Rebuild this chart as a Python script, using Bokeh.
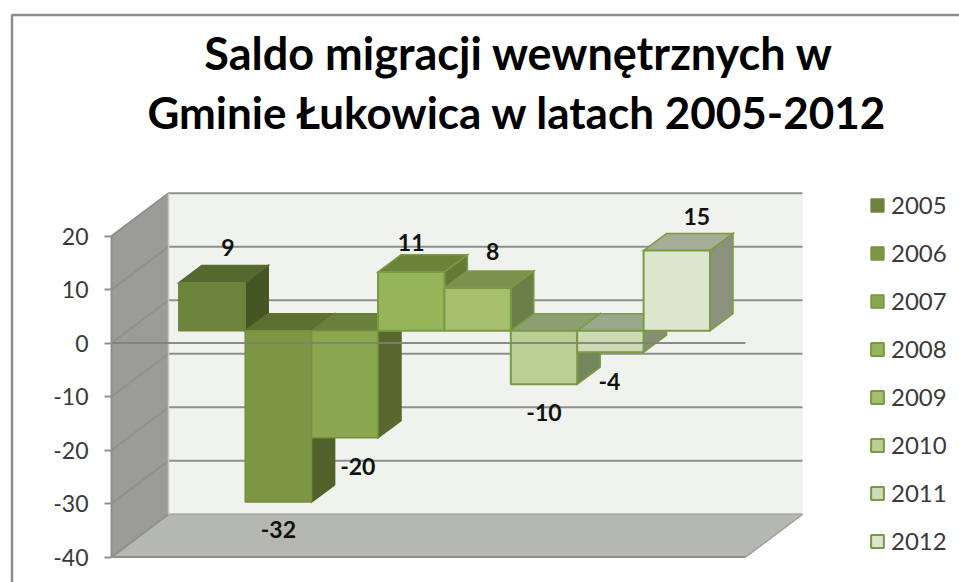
from bokeh.embed import file_html
from bokeh.resources import INLINE
from bokeh.plotting import figure
from bokeh.models import ColumnDataSource, FixedTicker, Legend, LegendItem, Range1d
from bokeh.core.properties import value

# ---- data
title_lines = ["Saldo migracji wewnętrznych w", "Gminie Łukowica w latach 2005-2012"]
years = ["2005", "2006", "2007", "2008", "2009", "2010", "2011", "2012"]
saldo = [9, -32, -20, 11, 8, -10, -4, 15]
value_ticks = [-40, -30, -20, -10, 0, 10, 20]

# ---- styles
front_colors = ["#6D833C", "#7D9644", "#8AA64F", "#96B558", "#A6C070", "#BBCE94", "#CDDBB4", "#DCE5CD"]
top_colors = ["#556A2F", "#5D7030", "#6B7F3C", "#6B8239", "#7A9150", "#8D9F70", "#9AA88A", "#A6AD95"]
side_colors = ["#465524", "#506229", "#59692E", "#637A36", "#6A7F47", "#73875A", "#868F73", "#8A917C"]
edge_colors = ["#6D833C", "#75903F", "#75933F", "#7A9A45", "#7A9A45", "#7A9A45", "#7A9A45", "#7A9A45"]
label_dx = [16, 0, 13, 0, 15, 0, -1, 20]
label_dy = [-35, 28, 29, -29, -36, 28, 29, -34]
title_sizes = ["45px", "44px"]

FONT = "Lato"
GRID = "#8F8F8F"
TEXT = "#3A3A3A"

# ---- the projection of the 3-D box (category units across, value units up)
PX_X, PX_Y = 66.4, 5.35
X0, Y0 = 178.3, 342.6          # page position of category 0 / value 0
WALL_FRONT_X = (111 - X0) / PX_X
WALL_DX = 57 / PX_X
WALL_DY = 8.0
WALL_WIDTH = 634 / PX_X
BAR_LIFT = 2.3                 # bars stand part-way into the box
BAR_DX, BAR_DY = 23 / PX_X, 3.2
BOTTOM, TOP = value_ticks[0], value_ticks[-1]

W, H = 959, 582
def page_x(px): return (px - X0) / PX_X
def page_y(py): return (Y0 - py) / PX_Y

p = figure(width=W, height=H, output_backend="svg", toolbar_location=None,
           x_range=Range1d(page_x(0), page_x(W)),
           y_range=Range1d(page_y(H), page_y(0)),
           x_axis_location=None, y_axis_location="left",
           min_border=0, min_border_left=0, min_border_right=0,
           min_border_top=0, min_border_bottom=0,
           background_fill_color="white", border_fill_color="white")
p.outline_line_color = None
p.xgrid.visible = False
p.ygrid.visible = False

# outer chart frame
p.line([page_x(959), page_x(11.5), page_x(11.5)], [page_y(14.5), page_y(14.5), page_y(582)],
       line_color="#8C8C8C", line_width=2.5)

fx, bx = WALL_FRONT_X, WALL_FRONT_X + WALL_DX
# walls and floor
p.patch([bx, bx + WALL_WIDTH, bx + WALL_WIDTH, bx], [BOTTOM + WALL_DY, BOTTOM + WALL_DY, TOP + WALL_DY, TOP + WALL_DY],
        fill_color="#F0F2ED", line_color=None)
p.patch([fx, bx, bx, fx], [BOTTOM, BOTTOM + WALL_DY, TOP + WALL_DY, TOP],
        fill_color="#9A9C95", line_color=None)
p.patch([fx, bx, bx + WALL_WIDTH, fx + WALL_WIDTH], [BOTTOM, BOTTOM + WALL_DY, BOTTOM + WALL_DY, BOTTOM],
        fill_color="#B5B8B0", line_color=None)

# gridlines on back wall and side wall
for t in value_ticks:
    if t > BOTTOM:
        p.line([fx, bx, bx + WALL_WIDTH], [t, t + WALL_DY, t + WALL_DY], line_color=GRID, line_width=2)
    else:
        p.line([fx, bx], [t, t + WALL_DY], line_color=GRID, line_width=2)
        p.line([bx, bx + WALL_WIDTH], [t + WALL_DY, t + WALL_DY], line_color="#A8ABA3", line_width=2)
p.line([fx + WALL_WIDTH, fx, ], [BOTTOM, BOTTOM], line_color=GRID, line_width=2)
p.line([fx + WALL_WIDTH, bx + WALL_WIDTH], [BOTTOM, BOTTOM + WALL_DY], line_color="#A0A39B", line_width=1.5)
p.line([bx, bx], [BOTTOM + WALL_DY, TOP + WALL_DY], line_color="#C8CAC4", line_width=1.5)

# bars, left to right
legend_items = []
for i, (yr, v) in enumerate(zip(years, saldo)):
    hi, lo = max(v, 0) + BAR_LIFT, min(v, 0) + BAR_LIFT
    l, r = i, i + 1
    p.patch([r, r, r + BAR_DX, r + BAR_DX], [lo, hi, hi + BAR_DY, lo + BAR_DY],
            fill_color=side_colors[i], line_color=edge_colors[i] if i > 2 else side_colors[i],
            line_width=1.5, line_join="miter")
    p.patch([l, r, r + BAR_DX, l + BAR_DX], [hi, hi, hi + BAR_DY, hi + BAR_DY],
            fill_color=top_colors[i], line_color=edge_colors[i] if i > 2 else top_colors[i],
            line_width=1.5, line_join="miter")
    q = p.quad(left=[l], right=[r], top=[hi], bottom=[lo],
               fill_color=front_colors[i], line_color=edge_colors[i], line_width=1.5 if i < 3 else 2)
    legend_items.append(LegendItem(label=yr, renderers=[q]))

# zero axis line runs over the bars
p.line([fx, fx + WALL_WIDTH], [0, 0], line_color="#808080", line_width=2, line_alpha=0.9)

# data labels
centers = [i + 0.5 for i in range(len(saldo))]
anchors = [v + BAR_LIFT for v in saldo]
lab = ColumnDataSource(dict(x=centers, y=anchors, t=[str(v) for v in saldo],
                            dx=label_dx, dy=label_dy))
p.text("x", "y", text="t", x_offset="dx", y_offset="dy", source=lab,
       text_font=value(FONT), text_font_style="bold", text_font_size="23px",
       text_color="#111111", text_align="center", text_baseline="middle")

# title
ttl = ColumnDataSource(dict(x=[page_x(518.5), page_x(517)], y=[page_y(52), page_y(111)],
                            t=title_lines, s=title_sizes))
p.text("x", "y", text="t", source=ttl, text_font=value(FONT), text_font_style="bold",
       text_font_size="s", text_color="#000000", text_align="center", text_baseline="middle")

# value axis on the front edge of the side wall
ax = p.yaxis[0]
ax.fixed_location = fx
ax.ticker = FixedTicker(ticks=value_ticks)
ax.major_label_overrides = {t: str(t) for t in value_ticks}
ax.bounds = (BOTTOM, TOP)
ax.axis_line_color = GRID
ax.axis_line_width = 2
ax.major_tick_line_color = GRID
ax.major_tick_line_width = 2
ax.major_tick_out = 7
ax.major_tick_in = 0
ax.minor_tick_line_color = None
ax.major_label_standoff = 16
ax.major_label_text_font = FONT
ax.major_label_text_font_size = "23px"
ax.major_label_text_color = TEXT

# legend
leg = Legend(items=legend_items, location=(869, 27), orientation="vertical",
             glyph_width=16, glyph_height=16, label_standoff=6, spacing=19,
             padding=0, margin=0, background_fill_alpha=0, border_line_color=None,
             label_text_font=FONT, label_text_font_size="24px", label_text_color=TEXT)
p.add_layout(leg, "center")

open("out.html", "w").write(file_html(p, INLINE))
